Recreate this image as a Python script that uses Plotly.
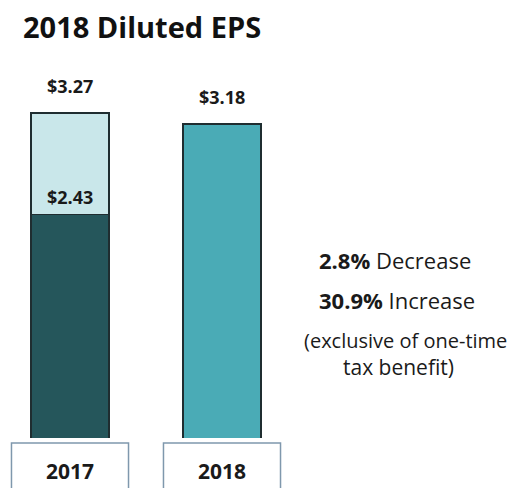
import plotly.graph_objects as go

# ---- data ----
years = ["2017", "2018"]
eps_base = [2.43, 3.18]          # 2017 excl. one-time tax benefit, 2018 diluted EPS
eps_benefit_2017 = [0.84]        # one-time tax benefit portion for 2017
eps_total = [3.27, 3.18]         # reported totals
change_lines = ["<b>2.8%</b> Decrease", "<b>30.9%</b> Increase",
                "(exclusive of one-time", "tax benefit)"]

# ---- style / geometry (figure pixel coords; page has an 8px body margin) ----
OFF = 8
W, H = 517 - OFF, 488 - OFF
plot_bottom_px = 438 - OFF
bar_top_px = 113 - OFF
px_per_unit = 121.0
y_low = eps_total[0] - (plot_bottom_px - bar_top_px) / px_per_unit
y_high = eps_total[0] + bar_top_px / px_per_unit
cat_px = 152.0
x0_px = 70.0 - OFF
font = "Open Sans"
txt = "#1a1a1a"
outline = "#1f2d30"

def py(p):  # page pixel y -> paper y
    return (plot_bottom_px - (p - OFF)) / plot_bottom_px

def px(p):  # page pixel x -> paper x
    return (p - OFF) / W

fig = go.Figure()
fig.add_trace(go.Bar(
    x=years, y=eps_base, width=78 / cat_px,
    marker=dict(color=["#25565b", "#4aabb6"], line=dict(color=outline, width=1.5)),
    hoverinfo="skip"))
fig.add_trace(go.Bar(
    x=years[:1], y=eps_benefit_2017, width=78 / cat_px,
    marker=dict(color="#c9e7ea", line=dict(color=outline, width=1.5)),
    hoverinfo="skip"))

ann = []
for i, tot in enumerate(eps_total):
    ann.append(dict(x=i, y=tot, xref="x", yref="y", text=f"<b>${tot:.2f}</b>",
                    showarrow=False, yanchor="middle", yshift=27,
                    font=dict(family=font, size=18, color=txt)))
ann.append(dict(x=0, y=eps_base[0], xref="x", yref="y",
                text=f"<b>${eps_base[0]:.2f}</b>", showarrow=False,
                yanchor="middle", yshift=18,
                font=dict(family=font, size=18, color=txt)))
for t, xx, p, s in zip(change_lines, [395, 397, 405, 398], [260, 300, 340, 367],
                       [22, 22, 20, 21]):
    ann.append(dict(x=px(xx), y=py(p), xref="paper", yref="paper", text=t,
                    showarrow=False, xanchor="center", yanchor="middle",
                    font=dict(family=font, size=s, color=txt)))

shapes = []
for i in range(len(years)):
    shapes.append(dict(type="rect", xref="x", yref="paper",
                       x0=i - 0.385, x1=i + 0.385,
                       y0=py(510), y1=py(443),
                       line=dict(color="#7f98ad", width=1.5),
                       fillcolor="rgba(0,0,0,0)", layer="above"))

fig.update_layout(
    width=W, height=H,
    margin=dict(l=0, r=0, t=0, b=H - plot_bottom_px, pad=0),
    barmode="stack", showlegend=False,
    plot_bgcolor="white", paper_bgcolor="white",
    title=dict(text="<b>2018 Diluted EPS</b>", x=(23 - OFF) / W, xanchor="left",
               y=1 - (28 - OFF) / H, yanchor="middle", xref="container", yref="container",
               font=dict(family=font, size=29, color="#111111")),
    xaxis=dict(type="category", range=[-x0_px / cat_px, (W - x0_px) / cat_px],
               showgrid=False, zeroline=False, showline=False, ticks="",
               tickfont=dict(family=font, size=21, color=txt, weight="bold"),
               ticklabelstandoff=19),
    yaxis=dict(range=[y_low, y_high], visible=False),
    annotations=ann, shapes=shapes,
)

fig.write_html("out.html")
